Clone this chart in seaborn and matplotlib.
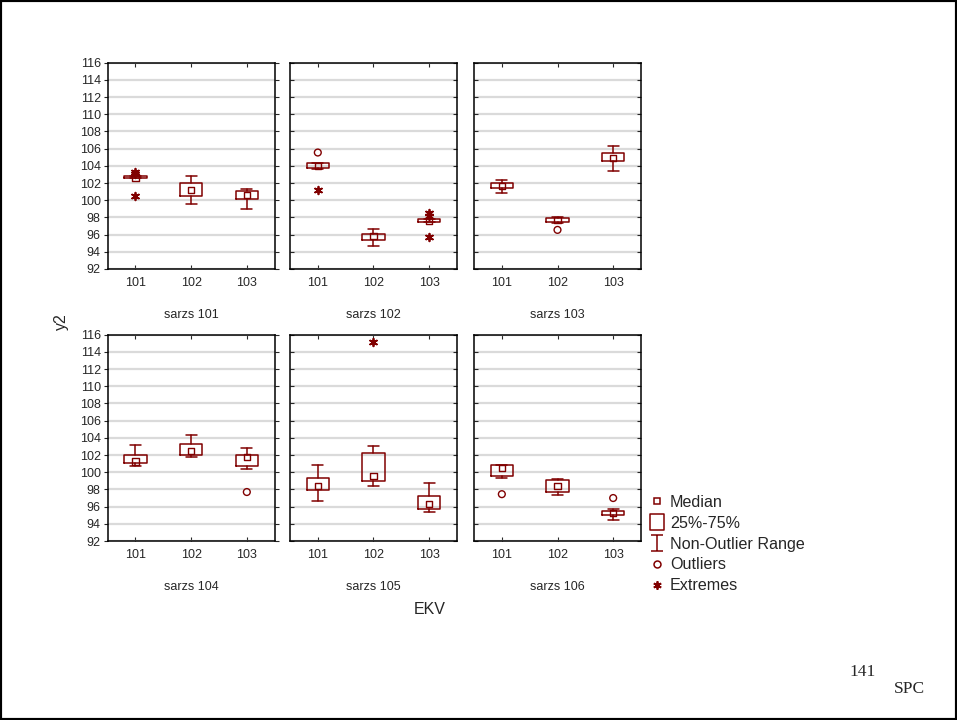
import numpy as np
import pandas as pd
import matplotlib
matplotlib.use('Agg')
import matplotlib.pyplot as plt
from matplotlib.lines import Line2D
from matplotlib.path import Path
from matplotlib.patches import Rectangle
import seaborn as sns

# summary stats
sarzs = ['sarzs 101', 'sarzs 102', 'sarzs 103', 'sarzs 104', 'sarzs 105', 'sarzs 106']
ekv = ['101', '102', '103']

med = [[102.65, 101.2, 100.6], [104.0, 95.8, 97.6], [101.7, 97.7, 104.9],
       [101.25, 102.5, 101.75], [98.4, 99.6, 96.3], [100.5, 98.4, 95.3]]
q1 = [[102.6, 100.45, 100.2], [103.8, 95.35, 97.5], [101.45, 97.45, 104.6],
      [101.05, 102.0, 100.75], [97.9, 98.95, 95.7], [99.6, 97.65, 95.0]]
q3 = [[102.8, 102.0, 101.05], [104.3, 96.05, 97.8], [102.0, 97.95, 105.45],
      [102.05, 103.3, 102.05], [99.3, 102.25, 97.25], [100.9, 99.05, 95.5]]
whis_lo = [[102.6, 99.6, 99.0], [103.65, 94.7, 97.5], [100.8, 97.4, 103.4],
           [100.75, 101.8, 100.4], [96.6, 98.45, 95.35], [99.35, 97.4, 94.5]]
whis_hi = [[102.8, 102.8, 101.3], [104.35, 96.6, 97.8], [102.4, 98.1, 106.35],
           [103.2, 104.3, 102.8], [100.9, 103.0, 98.7], [100.9, 99.2, 95.75]]

outlier_sarzs = ['sarzs 102', 'sarzs 103', 'sarzs 104', 'sarzs 106', 'sarzs 106']
outlier_ekv = ['101', '102', '103', '101', '103']
outlier_y = [105.55, 96.55, 97.7, 97.45, 97.0]

extreme_sarzs = ['sarzs 101', 'sarzs 101', 'sarzs 101', 'sarzs 102',
                 'sarzs 102', 'sarzs 102', 'sarzs 102', 'sarzs 105']
extreme_ekv = ['101', '101', '101', '101', '103', '103', '103', '102']
extreme_y = [103.3, 103.0, 100.5, 101.2, 98.55, 98.2, 95.7, 115.15]

y_ticks = list(range(92, 117, 2))

RED = '#800000'

rows = []
for i, s in enumerate(sarzs):
    for j, e in enumerate(ekv):
        rows.append(dict(sarzs=s, ekv=e, pos=j, med=med[i][j], q1=q1[i][j], q3=q3[i][j],
                         lo=whis_lo[i][j], hi=whis_hi[i][j]))
stats = pd.DataFrame(rows)
outl = pd.DataFrame({'sarzs': outlier_sarzs, 'ekv': outlier_ekv, 'y': outlier_y})
outl['pos'] = outl['ekv'].map(ekv.index)
extr = pd.DataFrame({'sarzs': extreme_sarzs, 'ekv': extreme_ekv, 'y': extreme_y})
extr['pos'] = extr['ekv'].map(ekv.index)

sns.set_style('white')
plt.rcParams['font.family'] = ['Liberation Sans', 'DejaVu Sans']

g = sns.FacetGrid(stats, col='sarzs', col_wrap=3, sharex=False, sharey=True)
fig = g.figure
fig.set_size_inches(9.57, 7.2)
fig.set_dpi(100)

lefts = [0.1125, 0.3030, 0.4953]
bottoms = [0.6264, 0.2486]
W, H = 0.1745, 0.2865

asterisk = (6, 2, 0)
line_kw = dict(color=RED, linewidth=1.1)

for i, (name, ax) in enumerate(g.axes_dict.items()):
    ax.set_position([lefts[i % 3], bottoms[i // 3], W, H])
    sub = stats[stats.sarzs == name]
    bstats = [dict(med=r.med, q1=r.q1, q3=r.q3, whislo=r.lo, whishi=r.hi, fliers=[])
              for r in sub.itertuples()]
    ax.bxp(bstats, positions=list(sub.pos), widths=0.4, capwidths=0.2, showfliers=False,
           boxprops=line_kw, whiskerprops=line_kw, capprops=line_kw,
           medianprops=dict(visible=False), manage_ticks=False)
    sns.scatterplot(data=sub, x='pos', y='med', marker='s', s=20, color=RED,
                    facecolors='none', edgecolor=RED, linewidth=1.0, ax=ax, legend=False)
    o = outl[outl.sarzs == name]
    if len(o):
        sns.scatterplot(data=o, x='pos', y='y', marker='o', s=24, color=RED,
                        facecolors='none', edgecolor=RED, linewidth=1.0, ax=ax, legend=False)
    e = extr[extr.sarzs == name]
    if len(e):
        sns.scatterplot(data=e, x='pos', y='y', marker=asterisk, s=30, color=RED,
                        edgecolor=RED, linewidth=1.3, ax=ax, legend=False)

    ax.set_xlim(-0.5, 2.5)
    ax.set_ylim(92, 116)
    ax.set_xticks(range(len(ekv)))
    ax.set_xticklabels(ekv, fontsize=9)
    ax.set_yticks(y_ticks)
    ax.yaxis.grid(True, color='#dadada', linewidth=1.6)
    ax.set_axisbelow(True)
    for sp in ax.spines.values():
        sp.set_visible(True)
        sp.set_color('black')
        sp.set_linewidth(1.1)
    ax.set_title('')
    ax.set_ylabel('')
    ax.set_xlabel(name, fontsize=9, labelpad=14)
    ax.tick_params(axis='x', bottom=True, top=True, direction='in', length=3, pad=6)
    if i % 3 == 0:
        ax.tick_params(axis='y', left=True, right=True, direction='out', length=3,
                       labelsize=9, pad=2)
        ax.tick_params(axis='y', which='major', labelleft=True)
    else:
        ax.tick_params(axis='y', left=True, right=True, direction='in', length=3,
                       labelleft=False)

fig.text(61 / 957, 1 - 322 / 720, 'y2', rotation=90, ha='center', va='center', fontsize=11.5)
fig.text(430 / 957, 1 - 609 / 720, 'EKV', ha='center', va='center', fontsize=11.5)

rect_marker = Path([(-0.8, -1), (0.8, -1), (0.8, 1), (-0.8, 1), (-0.8, -1)],
                   [Path.MOVETO, Path.LINETO, Path.LINETO, Path.LINETO, Path.CLOSEPOLY])
range_marker = Path([(-0.7, 1), (0.7, 1), (0, 1), (0, -1), (-0.7, -1), (0.7, -1)],
                    [Path.MOVETO, Path.LINETO, Path.MOVETO, Path.LINETO, Path.MOVETO, Path.LINETO])
handles = [
    Line2D([], [], ls='none', marker='s', ms=5, mfc='none', mec=RED, mew=1.1),
    Line2D([], [], ls='none', marker=rect_marker, ms=12, mfc='none', mec=RED, mew=1.1),
    Line2D([], [], ls='none', marker=range_marker, ms=12, mfc='none', mec=RED, mew=1.1),
    Line2D([], [], ls='none', marker='o', ms=5, mfc='none', mec=RED, mew=1.1),
    Line2D([], [], ls='none', marker=asterisk, ms=6, mfc=RED, mec=RED, mew=1.3),
]
labels = ['Median', '25%-75%', 'Non-Outlier Range', 'Outliers', 'Extremes']
fig.legend(handles, labels, loc='upper left', bbox_to_anchor=(649 / 957, 1 - 495 / 720),
           frameon=False, fontsize=11.6, handlelength=1.0, handletextpad=0.3,
           labelspacing=0.36, borderaxespad=0, borderpad=0)

fig.text(863 / 957, 1 - 672 / 720, '141', ha='center', va='center', fontsize=12.5,
         family=['Liberation Serif', 'DejaVu Serif'])
fig.text(909 / 957, 1 - 689 / 720, 'SPC', ha='center', va='center', fontsize=12.5,
         family=['Liberation Serif', 'DejaVu Serif'])

fig.add_artist(Rectangle((0, 0), 1, 1, transform=fig.transFigure, fill=False,
                         edgecolor='black', linewidth=3))

fig.savefig('out.png', dpi=100)
